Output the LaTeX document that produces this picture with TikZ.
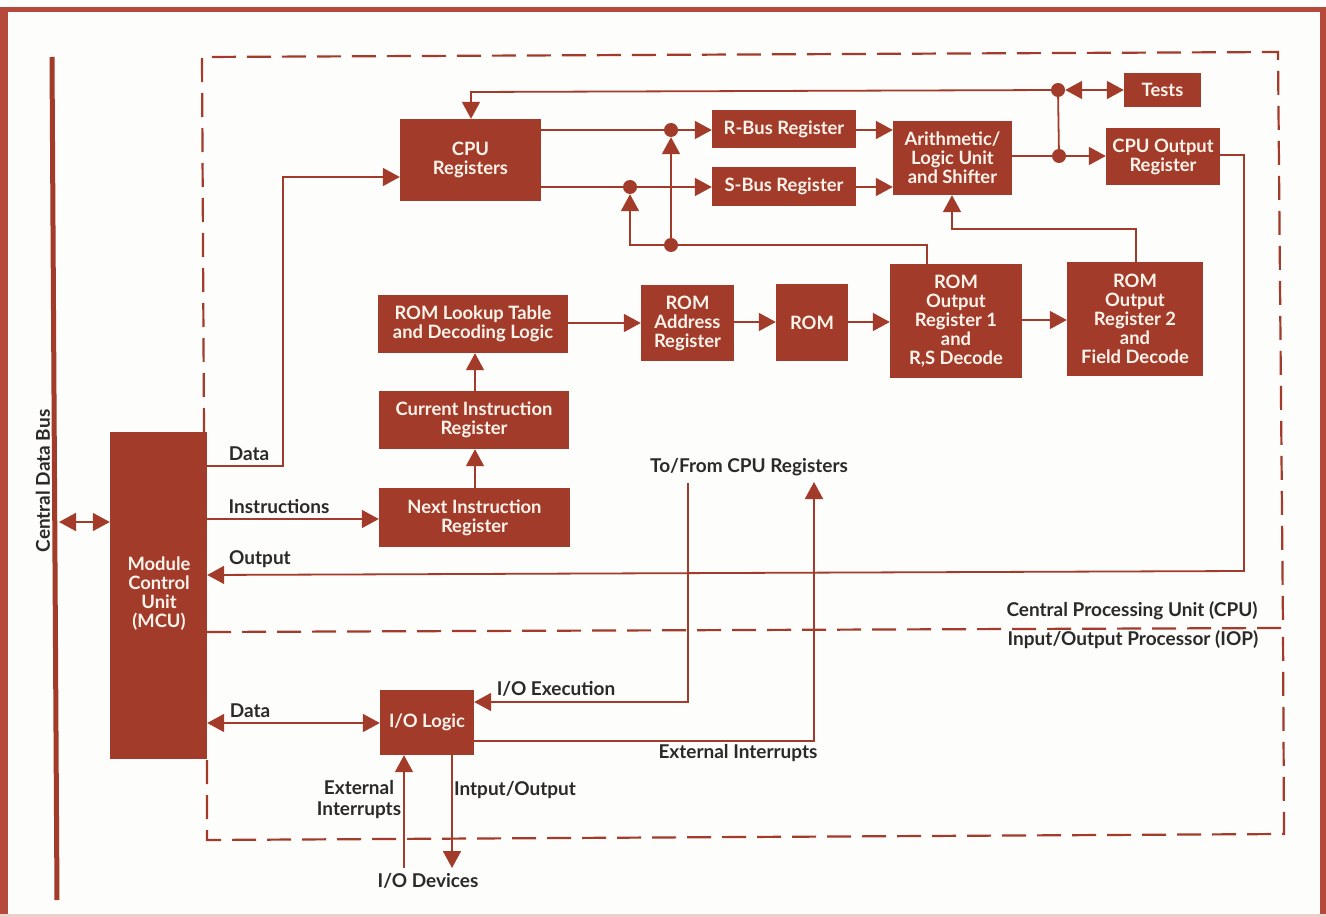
\documentclass[tikz,border=0pt]{standalone}
\usepackage{fontspec}
\setmainfont{Lato}
\usetikzlibrary{arrows.meta}
\definecolor{brick}{HTML}{A33B2B}
\definecolor{frameC}{HTML}{B5493B}
\definecolor{paper}{HTML}{FDFDFB}
\definecolor{ink}{HTML}{2B2A28}
\definecolor{boxtxt}{HTML}{FCF3EA}
\tikzset{
  boxn/.style={fill=brick,draw=none,inner sep=0pt,align=center,text=boxtxt,font=\fontsize{18.4}{19}\selectfont\bfseries},
  lab/.style={inner sep=0pt,align=center,text=ink,font=\fontsize{19}{21}\selectfont\bfseries},
  conn/.style={draw=brick,line width=1.8pt,line join=miter},
  arr/.style={conn,-{Triangle[length=17pt,width=18pt]}},
  darr/.style={conn,{Triangle[length=17pt,width=18pt]}-{Triangle[length=17pt,width=18pt]}},
  dot/.style={circle,fill=brick,inner sep=0pt,minimum size=14pt},
  dashline/.style={draw=brick,line width=2.2pt,dash pattern=on 24pt off 11pt},
}
\begin{document}
\begin{tikzpicture}[x=1pt,y=-1pt]
\useasboundingbox (0,0) rectangle (1326,917);
\fill[paper] (0,0) rectangle (1326,917);
% outer frame
\fill[frameC] (0,7) rectangle (1326,12);
\fill[frameC] (0,7) rectangle (8,917);
\fill[frameC] (1320,7) rectangle (1326,917);
\fill[frameC!25!paper] (0,914) rectangle (1326,917);
% named points
\coordinate (busT) at (52,57);
\coordinate (busB) at (57,900);
\coordinate (busP) at (59,522);
\coordinate (fa) at (204,432);
\coordinate (fb) at (202,57);
\coordinate (fc) at (1278,52);
\coordinate (fd) at (1283,628);
\coordinate (fe) at (207,632);
\coordinate (ff) at (1284,834);
\coordinate (fg) at (207,840);
\coordinate (fh) at (207,759);
% dashed frames
\draw[dashline] (fa) -- (fb) -- (fc) -- (fd);
\draw[dashline] (fe) -- (fd) -- (ff) -- (fg) -- (fh);
% bus
\draw[brick,line width=5pt] (busT) -- (busB);
% boxes
\node[boxn,minimum width=141pt,minimum height=82pt] (cpu) at (470.5,160) {CPU\\Registers};
\node[boxn,minimum width=144pt,minimum height=38pt] (rbus) at (784,129) {R-Bus Register};
\node[boxn,minimum width=144pt,minimum height=39pt] (sbus) at (784,186.5) {S-Bus Register};
\node[boxn,minimum width=119pt,minimum height=74pt] (alu) at (952.5,158) {Arithmetic/\\Logic Unit\\and Shifter};
\node[boxn,minimum width=77pt,minimum height=34pt] (tests) at (1162.5,90) {Tests};
\node[boxn,minimum width=114pt,minimum height=57pt] (cout) at (1163,156.5) {CPU Output\\Register};
\node[boxn,minimum width=190pt,minimum height=58pt] (lookup) at (473,324) {ROM Lookup Table\\and Decoding Logic};
\node[boxn,minimum width=93pt,minimum height=76pt] (addr) at (687.5,323) {ROM\\Address\\Register};
\node[boxn,minimum width=72pt,minimum height=77pt] (rom) at (812,322.5) {ROM};
\node[boxn,minimum width=132pt,minimum height=114pt] (orone) at (956,321) {ROM\\Output\\Register 1\\and\\R,S Decode};
\node[boxn,minimum width=136pt,minimum height=114pt] (ortwo) at (1135,319) {ROM\\Output\\Register 2\\and\\Field Decode};
\node[boxn,minimum width=190pt,minimum height=58pt] (cur) at (474,420) {Current Instruction\\Register};
\node[boxn,minimum width=191pt,minimum height=59pt] (next) at (474.5,517.5) {Next Instruction\\Register};
\node[boxn,minimum width=97pt,minimum height=327pt] (mcu) at (158.5,595.5) {};
\node[boxn] (mcutxt) at (159,593.5) {Module\\Control\\Unit\\(MCU)};
\node[boxn,minimum width=94pt,minimum height=65pt] (iol) at (427,722.5) {I/O Logic};
% junctions
\node[dot] (jr) at (671,130) {};
\node[dot] (js) at (630,187) {};
\node[dot] (jm) at (671,245) {};
\node[dot] (jo) at (1059,156) {};
\node[dot] (jt) at (1058,90) {};
\coordinate (k1) at (630,245);
\coordinate (k2) at (927,245);
\coordinate (k3) at (1136,229);
\coordinate (k4) at (952,229);
\coordinate (k5) at (471,92);
\coordinate (d1) at (283,466);
\coordinate (d2) at (283,177);
\coordinate (o1) at (1244,155);
\coordinate (o2) at (1244,571);
\coordinate (e1) at (688,483);
\coordinate (e2) at (688,702);
\coordinate (x1) at (814,741);
\coordinate (x2) at (814,482);
\coordinate (dv1) at (404,868);
\coordinate (dv2) at (452,868);
% connectors
\draw[arr] (mcu.east |- d1) -- (d1) -- (d2) -- (cpu.west |- d2);
\draw[arr] (mcu.east |- 0,519) -- (next.west |- 0,519);
\draw[arr] (cout.east |- o1) -- (o1) -- (o2) -- (mcu.east |- 0,575);
\draw[darr] (busP) -- (mcu.west |- busP);
\draw[arr] (next.north -| 475,0) -- (cur.south -| 475,0);
\draw[arr] (cur.north -| 475,0) -- (lookup.south -| 475,0);
\draw[arr] (lookup.east |- 0,323) -- (addr.west |- 0,323);
\draw[arr] (addr.east |- 0,322) -- (rom.west |- 0,322);
\draw[arr] (rom.east |- 0,322) -- (orone.west |- 0,322);
\draw[arr] (orone.east |- 0,320) -- (ortwo.west |- 0,320);
\draw[conn] (cpu.east |- jr) -- (jr);
\draw[arr] (jr) -- (rbus.west |- jr);
\draw[conn] (cpu.east |- js) -- (js);
\draw[arr] (js) -- (sbus.west |- js);
\draw[arr] (rbus.east |- jr) -- (alu.west |- jr);
\draw[arr] (sbus.east |- js) -- (alu.west |- js);
\draw[arr] (orone.north -| k2) -- (k2) -- (k1) -- (js.south);
\draw[arr] (jm) -- (jr.south);
\draw[arr] (ortwo.north -| k3) -- (k3) -- (k4) -- (alu.south -| k4);
\draw[conn] (alu.east |- jo) -- (jo);
\draw[arr] (jo) -- (cout.west |- jo);
\draw[conn] (jo) -- (jt);
\draw[arr] (jt) -- (k5) -- (cpu.north -| k5);
\draw[darr] (jt.east) -- (tests.west |- jt);
\draw[darr] (mcu.east |- 0,723) -- (iol.west |- 0,723);
\draw[arr] (e1) -- (e2) -- (iol.east |- e2);
\draw[arr] (iol.east |- x1) -- (x1) -- (x2);
\draw[arr] (dv1) -- (iol.south -| dv1);
\draw[arr] (iol.south -| dv2) -- (dv2);
% labels
\node[lab,rotate=90] (lbus) at (43,481) {Central Data Bus};
\node[lab] (l1) at (249,454) {Data};
\node[lab] (l2) at (279,507) {Instructions};
\node[lab] (l3) at (260,559.5) {Output};
\node[lab] (l4) at (250,711) {Data};
\node[lab] (l5) at (556,689) {I/O Execution};
\node[lab] (l6) at (749,467.5) {To/From CPU Registers};
\node[lab] (l7) at (1132,611) {Central Processing Unit (CPU)};
\node[lab] (l8) at (1133,640) {Input/Output Processor (IOP)};
\node[lab] (l9) at (738,753) {External Interrupts};
\node[lab] (l10) at (359,800) {External\\Interrupts};
\node[lab] (l11) at (515,790) {Intput/Output};
\node[lab] (l12) at (428,881) {I/O Devices};
\end{tikzpicture}
\end{document}
